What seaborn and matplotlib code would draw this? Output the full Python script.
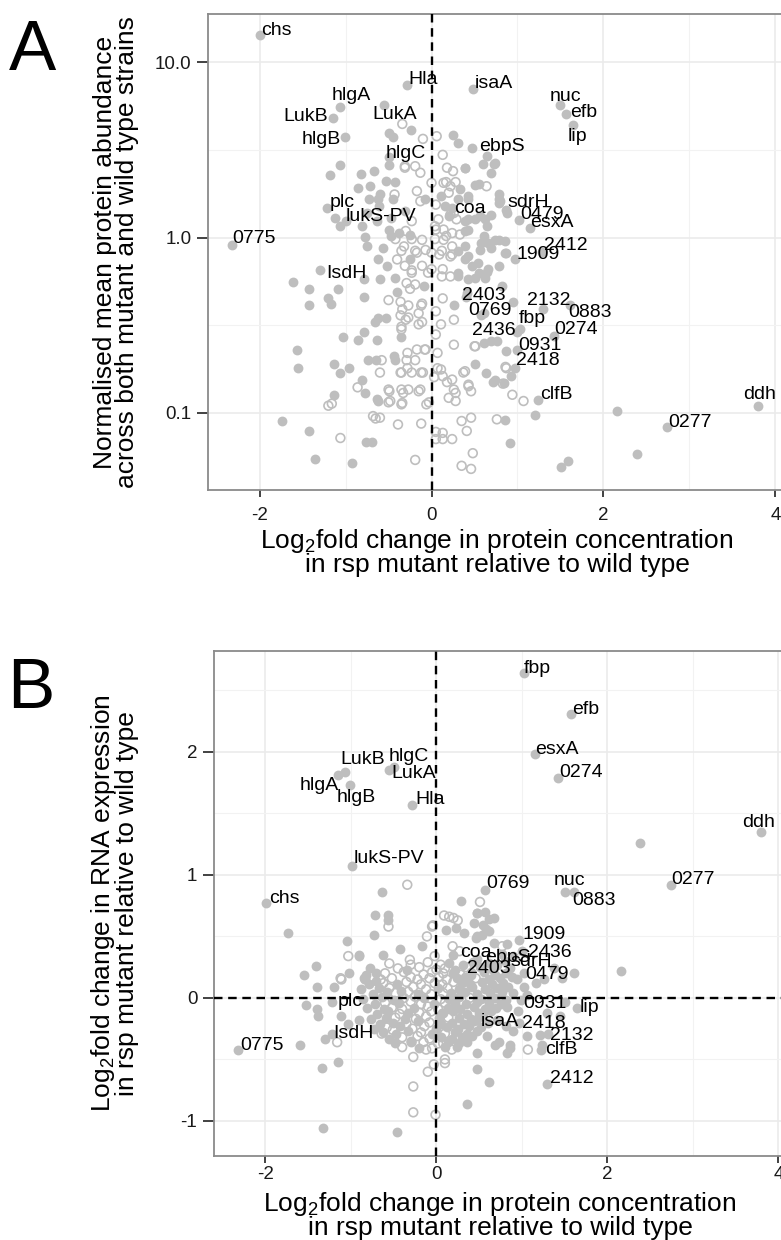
import matplotlib
matplotlib.use("Agg")
import matplotlib.pyplot as plt
import numpy as np
import pandas as pd
import seaborn as sns
from matplotlib.ticker import FixedLocator, NullFormatter

sns.set_theme(style="white")
plt.rcParams["font.family"] = ["Liberation Sans", "DejaVu Sans"]
plt.rcParams["mathtext.fontset"] = "custom"
plt.rcParams["mathtext.rm"] = "Liberation Sans"
plt.rcParams["mathtext.it"] = "Liberation Sans:italic"
plt.rcParams["text.color"] = "black"

# ---------------------------------------------------------------- labelled genes
genes = ["chs", "Hla", "isaA", "hlgA", "LukB", "LukA", "hlgB", "hlgC", "nuc", "efb",
         "lip", "ebpS", "plc", "lukS-PV", "coa", "sdrH", "0479", "esxA", "0775", "2412",
         "1909", "IsdH", "2403", "2132", "0769", "fbp", "0883", "2436", "0274", "0931",
         "2418", "clfB", "ddh", "0277"]
gene_fc = [-1.99, -0.28, 0.48, -1.07, -1.15, -0.55, -1.01, -0.50, 1.50, 1.57,
           1.65, 0.47, -1.22, -0.99, 0.20, 0.80, 1.02, 1.15, -2.32, 1.29,
           0.97, -1.30, 0.40, 1.30, 0.57, 1.03, 1.61, 1.00, 1.42, 0.99,
           0.97, 1.24, 3.80, 2.74]
gene_abund = [14.3, 7.38, 7.06, 5.57, 4.83, 5.72, 3.75, 2.86, 5.70, 5.09,
              4.39, 3.24, 1.48, 1.24, 1.32, 1.61, 1.26, 1.14, 0.904, 0.83,
              0.75, 0.657, 0.46, 0.39, 0.36, 0.30, 0.41, 0.29, 0.274, 0.23,
              0.18, 0.118, 0.109, 0.083]
gene_rna = [0.77, 1.57, -0.17, 1.84, 1.81, 1.85, 1.73, 1.88, 0.86, 2.31,
            -0.08, 0.32, -0.03, 1.07, 0.35, 0.30, 0.20, 1.98, -0.42, -0.70,
            0.47, -0.33, 0.21, -0.29, 0.88, 2.64, 0.86, 0.38, 1.79, -0.02,
            -0.20, -0.38, 1.35, 0.92]

# ---------------------------------------------- panel A: (log2 fold change, abundance)
abund_sig = [
    (-0.50, 3.95), (-0.45, 3.75), (-0.24, 4.11), (0.25, 3.86), (0.31, 3.47), (0.65, 2.93),
    (0.60, 2.63), (0.73, 2.63), (0.69, 2.34), (0.39, 2.49), (-0.50, 2.58), (-1.07, 2.58),
    (-1.18, 2.26), (-0.82, 2.29), (-0.67, 2.39), (-0.85, 1.92), (-0.71, 1.96), (-0.53, 2.09),
    (-0.43, 2.07), (0.50, 2.00), (-0.60, 1.76), (-0.73, 1.65), (-0.45, 1.65), (-0.08, 1.65),
    (0.11, 1.72), (0.31, 1.65), (0.43, 1.66), (0.79, 1.76), (0.87, 1.44), (-0.75, 1.38),
    (-0.61, 1.51), (-0.47, 1.29), (-0.64, 1.24), (-0.81, 1.16), (0.56, 1.32), (0.69, 1.35),
    (0.79, 1.58), (0.39, 1.24), (0.50, 1.27), (0.65, 1.16), (0.39, 1.09), (0.61, 1.02),
    (0.74, 0.97), (0.86, 0.95), (-0.47, 1.02), (-0.77, 1.01), (-1.12, 1.29), (-1.07, 1.17),
    (-0.75, 0.89), (-0.56, 0.87), (0.39, 0.89), (0.56, 0.85), (0.69, 0.87), (0.87, 0.82),
    (0.39, 0.75), (0.54, 0.72), (0.65, 0.64), (0.50, 0.59), (0.31, 0.63), (-0.60, 0.58),
    (-0.79, 0.58), (-1.09, 0.51), (-1.20, 0.45), (-1.42, 0.51), (-1.61, 0.56), (-1.42, 0.41),
    (-1.17, 0.42), (-0.79, 0.46), (-0.40, 0.49), (-0.09, 0.53), (-0.53, 0.35), (-0.66, 0.33),
    (-0.78, 0.29), (-1.03, 0.27), (-0.86, 0.26), (-0.64, 0.26), (-0.35, 0.27), (-1.57, 0.23),
    (-1.55, 0.18), (-1.14, 0.19), (-1.07, 0.17), (-0.96, 0.18), (-0.74, 0.20), (-0.43, 0.20),
    (-0.81, 0.155), (-0.77, 0.13), (-1.14, 0.126), (-0.62, 0.117), (0.50, 0.19), (0.63, 0.17),
    (0.74, 0.155), (0.93, 0.162), (0.61, 0.25), (0.69, 0.257), (0.76, 0.257), (0.87, 0.225),
    (0.61, 0.37), (0.82, 0.53), (0.95, 0.43), (0.41, 0.48), (0.26, 0.41), (0.71, 0.150),
    (0.84, 0.148), (-0.62, 0.35), (-0.44, 0.21), (-0.65, 0.20), (-0.64, 0.12), (-0.69, 0.068),
    (-1.74, 0.090), (-1.43, 0.079), (-0.76, 0.068), (0.86, 0.091), (1.20, 0.098), (2.16, 0.102),
    (0.91, 0.067), (2.39, 0.058), (-1.36, 0.055), (-0.93, 0.052), (1.51, 0.049), (1.59, 0.053),
    (0.55, 2.02), (0.78, 1.65), (0.43, 1.72), (0.33, 1.88), (0.16, 1.51), (0.24, 1.48),
    (-0.62, 1.65), (-0.31, 1.41), (0.62, 1.27), (0.43, 1.27), (0.88, 1.38), (0.43, 1.11),
    (-0.50, 1.11), (-0.38, 1.06), (-0.25, 1.04), (0.57, 0.93), (0.66, 0.93), (0.78, 0.97),
    (0.86, 0.82), (-0.25, 0.75), (0.31, 0.84), (0.43, 0.78), (0.47, 0.69), (0.55, 0.63),
    (0.66, 0.66), (0.78, 0.69), (-0.62, 0.75), (-0.52, 0.69), (0.31, 0.60), (0.43, 0.58),
    (0.62, 0.59), (-0.42, 0.59), (0.74, 2.67), (0.39, 2.50),
]
abund_ns = [
    (-0.34, 4.44), (-0.10, 3.65), (0.06, 3.78), (0.13, 2.96), (0.25, 2.39), (-0.31, 2.50),
    (-0.13, 2.34), (-0.43, 1.76), (-0.17, 1.84), (0.00, 2.05), (0.17, 2.07), (0.28, 2.07),
    (0.64, 1.96), (-0.23, 1.24), (-0.13, 1.61), (0.05, 1.54), (0.26, 1.38), (-0.30, 1.09),
    (0.05, 1.11), (0.17, 1.02), (-0.31, 2.55), (-0.19, 2.55), (0.18, 2.50), (0.14, 2.05),
    (0.22, 1.96), (0.20, 1.80), (0.08, 1.27), (0.22, 1.35), (0.29, 1.27), (0.04, 1.16),
    (0.14, 1.11), (0.24, 1.06), (0.33, 1.04), (-0.42, 0.98), (-0.23, 0.98), (-0.11, 0.97),
    (0.04, 0.98), (0.14, 0.97), (0.24, 0.89), (-0.35, 0.84), (-0.19, 0.84), (-0.07, 0.85),
    (0.00, 0.82), (0.12, 0.84), (0.22, 0.78), (-0.31, 0.69), (-0.23, 0.63), (-0.11, 0.69),
    (0.00, 0.66), (0.12, 0.60), (0.22, 0.60), (-0.29, 0.55), (-0.19, 0.54), (-0.32, 0.89),
    (-0.17, 0.82), (0.09, 0.80), (0.24, 0.80), (0.13, 0.66), (-0.04, 0.63), (-0.23, 0.65),
    (-0.40, 0.75), (-0.50, 0.44), (-0.36, 0.43), (-0.25, 0.51), (-0.34, 0.39), (-0.30, 0.34),
    (-0.35, 0.30), (-0.15, 0.32), (-0.12, 0.41), (-0.58, 0.20), (-0.28, 0.22), (-0.17, 0.23),
    (-0.08, 0.23), (-0.28, 0.18), (-0.36, 0.17), (-0.12, 0.17), (0.07, 0.22), (0.07, 0.18),
    (-0.60, 0.17), (-0.86, 0.14), (-1.20, 0.11), (-1.16, 0.113), (-0.49, 0.133), (-0.48, 0.117),
    (-0.33, 0.13), (-0.34, 0.114), (-0.15, 0.133), (-0.06, 0.112), (0.03, 0.16), (0.13, 0.162),
    (0.24, 0.155), (0.26, 0.136), (0.20, 0.122), (0.28, 0.117), (0.43, 0.142), (0.46, 0.133),
    (0.37, 0.17), (0.11, 0.177), (0.26, 0.245), (0.50, 0.24), (0.83, 0.147), (0.87, 0.18),
    (0.94, 0.127), (1.07, 0.117), (0.13, 0.45), (0.05, 0.38), (0.11, 0.32), (0.05, 0.28),
    (0.26, 0.34), (-1.06, 0.072), (-0.68, 0.096), (-0.65, 0.093), (-0.60, 0.094), (-0.39, 0.086),
    (-0.12, 0.087), (0.35, 0.090), (0.46, 0.094), (0.76, 0.092), (0.41, 0.079), (0.05, 0.078),
    (0.13, 0.077), (0.05, 0.071), (0.13, 0.071), (0.24, 0.071), (-0.19, 0.054), (0.48, 0.059),
    (0.35, 0.050), (0.46, 0.048), (-0.27, 0.41), (-0.36, 0.36), (-0.27, 0.35), (-0.35, 0.31),
    (-0.15, 0.37), (-0.11, 0.33), (-0.11, 0.42), (-0.07, 0.23), (-0.19, 0.20), (-0.29, 0.20),
    (-0.35, 0.17), (-0.23, 0.17), (-0.10, 0.17), (-0.50, 0.136), (-0.35, 0.136), (-0.27, 0.136),
    (-0.13, 0.136), (-0.50, 0.115), (-0.35, 0.112), (-0.03, 0.115), (0.51, 0.24), (0.39, 0.173),
    (0.43, 0.145), (0.18, 0.15), (0.28, 0.13), (0.86, 0.183),
]

# ------------------------------------------ panel B: (log2 fold change, RNA log2 FC)
rna_sig = [
    (-0.64, 0.86), (0.29, 0.79), (0.47, 0.69), (0.61, 0.64), (0.23, 0.57), (0.58, 0.56),
    (0.47, 0.50), (0.53, 0.51), (-0.72, 0.67), (-0.56, 0.67), (-0.56, 0.63), (-0.73, 0.51),
    (-1.73, 0.53), (-1.05, 0.46), (-0.43, 0.40), (-0.90, 0.35), (-0.62, 0.35), (-0.17, 0.42),
    (0.67, 0.45), (-1.41, 0.26), (-1.55, 0.19), (-1.39, 0.09), (-1.02, 0.20), (-1.20, 0.09),
    (-0.85, 0.16), (1.61, 0.20), (2.16, 0.22), (-0.34, 0.23), (-1.53, -0.06), (-1.40, -0.09),
    (-1.38, -0.15), (-1.59, -0.38), (-1.15, -0.52), (-1.34, -0.57), (-1.03, -0.21), (-0.90, -0.18),
    (0.47, -0.58), (0.83, -0.45), (0.86, -0.41), (0.68, -0.38), (1.51, -0.03), (2.38, 1.26),
    (0.61, -0.68), (0.36, -0.86), (-1.33, -1.06), (-0.46, -1.09), (-0.91, 0.34), (-1.12, -0.15),
    (-1.22, -0.29), (-0.71, 0.20), (0.48, 0.69), (0.57, 0.70), (0.67, 0.65), (0.44, 0.61),
    (0.55, 0.59), (0.61, 0.54), (0.11, 0.55), (0.32, 0.53), (0.46, 0.49), (0.83, 0.44),
    (0.77, 0.36), (0.90, 0.34), (1.37, 0.24), (1.47, 0.16), (1.26, 0.15), (1.16, 0.12),
    (1.02, 0.09), (0.94, 0.15), (0.90, 0.04), (1.06, 0.02), (0.83, -0.07), (0.96, -0.11),
    (1.29, -0.12), (1.45, -0.15), (0.71, -0.18), (0.81, -0.23), (0.90, -0.27), (1.06, -0.31),
    (1.21, -0.30), (0.59, -0.31), (0.73, -0.36), (0.86, -0.38), (0.36, -0.36), (0.48, -0.45),
    (1.22, -0.42),
    (-0.78, 0.24), (-0.82, 0.19), (-0.70, 0.14), (-0.79, 0.11), (-0.46, 0.11), (-0.88, 0.07),
    (-0.67, 0.08), (-0.41, 0.06), (-0.74, 0.03), (-0.58, 0.05), (-0.21, 0.03), (-0.86, -0.01),
    (-0.64, 0.01), (-0.50, -0.02), (-0.15, 0.00), (-0.72, -0.05), (-0.44, -0.04), (-0.03, -0.05),
    (-0.81, -0.08), (-0.61, -0.09), (-0.26, -0.08), (-0.69, -0.13), (-0.56, -0.11), (-0.33, -0.12),
    (0.07, -0.12), (-0.77, -0.17), (-0.59, -0.16), (-0.37, -0.17), (0.03, -0.16), (-0.66, -0.21),
    (-0.51, -0.20), (-0.21, -0.19), (0.06, -0.21), (-0.73, -0.25), (-0.43, -0.23), (0.00, -0.25),
    (-0.62, -0.28), (-0.47, -0.29), (-0.33, -0.27), (-0.05, -0.29), (-0.55, -0.33), (0.05, -0.32),
    (-0.48, -0.37), (-0.30, -0.35), (-0.20, -0.41), (0.10, -0.40),
    (0.15, 0.28), (0.31, 0.27), (0.43, 0.29), (0.61, 0.28), (0.71, 0.27), (0.22, 0.23),
    (0.51, 0.25), (0.66, 0.23), (0.86, 0.24), (0.19, 0.20), (0.41, 0.19), (0.56, 0.21),
    (0.69, 0.19), (0.81, 0.20), (0.24, 0.16), (0.34, 0.17), (0.61, 0.15), (0.74, 0.16),
    (0.88, 0.17), (0.30, 0.12), (0.39, 0.11), (0.53, 0.13), (0.65, 0.11), (0.78, 0.12),
    (0.02, 0.08), (0.26, 0.07), (0.42, 0.09), (0.57, 0.07), (0.71, 0.08), (0.84, 0.09),
    (0.17, 0.04), (0.34, 0.05), (0.47, 0.03), (0.63, 0.04), (0.77, 0.05), (0.15, -0.01),
    (0.27, 0.01), (0.52, -0.01), (0.68, 0.00), (0.82, -0.02), (0.22, -0.04), (0.35, -0.05),
    (0.48, -0.03), (0.62, -0.04), (0.75, -0.05), (0.14, -0.08), (0.28, -0.09), (0.44, -0.07),
    (0.57, -0.09), (0.70, -0.08), (0.08, -0.12), (0.20, -0.11), (0.36, -0.13), (0.50, -0.12),
    (0.64, -0.11), (0.27, -0.16), (0.40, -0.17), (0.55, -0.15), (0.18, -0.20), (0.32, -0.21),
    (0.44, -0.19), (0.60, -0.20), (0.12, -0.24), (0.25, -0.25), (0.38, -0.23), (0.52, -0.24),
    (0.22, -0.28), (0.36, -0.29), (0.48, -0.27), (0.18, -0.33), (0.30, -0.32), (0.42, -0.31),
    (0.14, -0.36), (0.26, -0.37), (0.24, -0.40),
]
rna_ns = [
    (-0.34, 0.92), (0.51, 0.78), (0.15, 0.66), (0.25, 0.63), (-0.56, 0.58), (-0.04, 0.59),
    (-1.03, 0.34), (-0.02, 0.34), (0.19, 0.42), (0.27, 0.38), (0.77, 0.42), (-1.11, 0.15),
    (-0.65, 0.15), (-0.31, 0.31), (-1.16, -0.36), (-0.64, -0.29), (-0.51, -0.26), (-0.29, -0.36),
    (-0.12, -0.42), (-0.27, -0.48), (0.08, -0.37), (0.18, -0.42), (0.10, -0.50), (1.07, -0.42),
    (-0.03, -0.54), (-0.10, -0.60), (0.10, -0.53), (-0.27, -0.72), (-0.27, -0.93), (-0.01, -0.95),
    (0.09, 0.67), (0.20, 0.65), (-0.83, 0.15), (-1.12, 0.16), (-0.11, 0.50), (-0.05, 0.58),
    (-0.55, 0.28), (-0.30, 0.27), (-0.10, 0.29), (0.05, 0.27), (-0.45, 0.24), (-0.20, 0.25),
    (0.00, 0.23), (0.10, 0.24), (0.35, 0.25), (-0.60, 0.20), (-0.38, 0.21), (-0.15, 0.19),
    (-0.05, 0.21), (0.08, 0.20), (0.28, 0.19), (-0.52, 0.16), (-0.30, 0.17), (-0.22, 0.15),
    (-0.08, 0.16), (0.03, 0.17), (0.12, 0.15), (0.46, 0.16), (-0.62, 0.12), (-0.35, 0.13),
    (-0.18, 0.11), (-0.02, 0.12), (0.07, 0.11), (0.20, 0.13), (-0.55, 0.08), (-0.27, 0.09),
    (-0.12, 0.07), (0.13, 0.08), (-0.48, 0.04), (-0.33, 0.05), (-0.06, 0.03), (0.08, 0.04),
    (-0.38, 0.00), (-0.25, 0.01), (0.05, -0.01), (0.39, 0.00), (-0.60, -0.04), (-0.30, -0.03),
    (-0.18, -0.05), (0.10, -0.04), (-0.52, -0.08), (-0.40, -0.09), (-0.10, -0.07), (0.02, -0.09),
    (-0.43, -0.13), (-0.20, -0.12), (-0.06, -0.11), (-0.48, -0.16), (-0.24, -0.17), (-0.12, -0.15),
    (0.14, -0.16), (-0.35, -0.21), (-0.08, -0.20), (-0.58, -0.24), (-0.28, -0.25), (-0.14, -0.23),
    (-0.18, -0.28), (0.10, -0.29), (-0.40, -0.32), (-0.22, -0.31), (-0.08, -0.33), (-0.15, -0.36),
    (0.02, -0.37), (-0.40, -0.40), (-0.05, -0.41),
]

# label placement: (dx, dy) in pixels from the point, horizontal alignment
label_pos_a = {
    "chs": (0.3, 4.5, "left"), "Hla": (1, 5.7, "left"), "isaA": (1.7, 5, "left"),
    "hlgA": (-7.7, 11, "left"), "LukB": (-4.5, 1.3, "right"), "LukA": (-11.7, -10, "left"),
    "hlgB": (-4.2, -2.7, "right"), "hlgC": (-3, 4, "left"), "nuc": (-11, 8, "left"),
    "efb": (4, 1.3, "left"), "lip": (-5.6, -11.4, "left"), "ebpS": (7.3, 1.7, "left"),
    "plc": (3.4, 5.4, "left"), "lukS-PV": (-0.5, 4.3, "left"), "coa": (5.4, 8, "left"),
    "sdrH": (7.5, -1.6, "left"), "0479": (1.5, 5.4, "left"), "esxA": (-0.4, 5.3, "left"),
    "0775": (0, 6.4, "left"), "2412": (2, 6, "left"), "1909": (2, 5, "left"),
    "IsdH": (6, -4, "left"), "2403": (-4, 1, "left"), "2132": (-16, 9, "left"),
    "0769": (-12, 5, "left"), "fbp": (-1, 10.5, "left"), "0883": (-2, -7.4, "left"),
    "2436": (-2.3, 1.7, "right"), "0274": (0.5, 6.7, "left"), "0931": (2, 4, "left"),
    "2418": (1.4, 8, "left"), "clfB": (2, 6, "left"), "ddh": (-14.6, 12, "left"),
    "0277": (1, 5, "left"),
}
label_pos_b = {
    "chs": (2.6, 4.3, "left"), "Hla": (2.7, 4.9, "left"), "isaA": (3, -2.8, "left"),
    "hlgA": (-5.6, -14, "right"), "LukB": (2.3, 15.4, "left"), "LukA": (1.7, -3.5, "left"),
    "hlgB": (-13.3, -12, "left"), "hlgC": (-5.3, 10, "left"), "nuc": (-10.6, 11.5, "left"),
    "efb": (1.3, 4.6, "left"), "lip": (2.2, 0, "left"), "ebpS": (8.8, 0.6, "left"),
    "plc": (5.3, 0, "left"), "lukS-PV": (1.6, 7.4, "left"), "coa": (6.2, 2.7, "left"),
    "sdrH": (5.6, -0.6, "left"), "0479": (1.8, -1.6, "left"), "esxA": (0.9, 5.2, "left"),
    "0775": (2.4, 3.7, "left"), "2412": (3, 5.1, "left"), "1909": (2.8, 5.2, "left"),
    "IsdH": (7.7, 5.3, "left"), "2403": (-3.5, 3.9, "left"), "2132": (2.8, -2.3, "left"),
    "0769": (1.3, 5.8, "left"), "fbp": (-1.1, 5, "left"), "0883": (-2.2, -8.5, "left"),
    "2436": (6.5, -1.7, "left"), "0274": (1.1, 5.5, "left"), "0931": (2.7, -3.5, "left"),
    "2418": (2.8, -1.4, "left"), "clfB": (2.4, -5.3, "left"), "ddh": (-19.4, 9.3, "left"),
    "0277": (0.7, 5.5, "left"),
}

GREY = "#BEBEBE"
TITLE_X = 19
TITLE_Y = 19
TICK = 13.5
LABEL = 14

labelled = pd.DataFrame({"gene": genes, "fc": gene_fc, "abund": gene_abund, "rna": gene_rna})


def frame(sig_pts, ns_pts, col):
    sig = pd.DataFrame(sig_pts, columns=["fc", col]).assign(sig=True)
    ns = pd.DataFrame(ns_pts, columns=["fc", col]).assign(sig=False)
    lab = labelled[["fc", col]].assign(sig=True)
    return pd.concat([sig, lab, ns], ignore_index=True)


def draw_points(ax, df, col):
    filled = df[df["sig"]]
    hollow = df[~df["sig"]]
    sns.scatterplot(data=filled, x="fc", y=col, ax=ax, color=GREY, s=50,
                    linewidth=0, zorder=2, legend=False)
    sns.scatterplot(data=hollow, x="fc", y=col, ax=ax, color=GREY, s=40,
                    facecolor="none", edgecolor=GREY, linewidth=1.2, zorder=2, legend=False)
    coll = ax.collections[-1]
    coll.set_facecolor("none")
    coll.set_edgecolor(GREY)


def style_axes(ax):
    for sp in ax.spines.values():
        sp.set_color("#8A8A8A")
        sp.set_linewidth(1.3)
    ax.set_axisbelow(True)
    ax.grid(which="major", color="#EBEBEB", linewidth=1.2)
    ax.grid(which="minor", color="#F2F2F2", linewidth=0.8)
    ax.tick_params(which="major", direction="out", width=1.3,
                   color="#333333", labelsize=TICK, labelcolor="#1A1A1A",
                   left=True, bottom=True)
    ax.tick_params(axis="x", which="major", length=5)
    ax.tick_params(axis="y", which="major", length=8, pad=4)
    ax.tick_params(which="minor", length=0)


def add_labels(ax, col, pos):
    for g, x, y in zip(labelled["gene"], labelled["fc"], labelled[col]):
        dx, dy, ha = pos[g]
        ax.annotate(g, (x, y), xytext=(dx, dy), textcoords="offset pixels",
                    ha=ha, va="center", fontsize=LABEL, color="black", zorder=5)


fig = plt.figure(figsize=(7.81, 12.40), dpi=100)
W, H = 781, 1240

xlabel = "Log$_2$fold change in protein concentration\nin rsp mutant relative to wild type"

# ------------------------------------------------------------------ panel A
ax_a = fig.add_axes([208 / W, 1 - 490 / H, 576 / W, 476 / H])
df_a = frame(abund_sig, abund_ns, "abund")
draw_points(ax_a, df_a, "abund")
ax_a.set_yscale("log")
ax_a.set_xlim(-2.6, 4.1)
ax_a.set_ylim(10 ** -1.439, 10 ** 1.274)
ax_a.axvline(0, color="black", lw=1.7, ls=(0, (3.6, 2.4)), zorder=3)
ax_a.xaxis.set_major_locator(FixedLocator([-2, 0, 2, 4]))
ax_a.xaxis.set_minor_locator(FixedLocator([-1, 1, 3]))
ax_a.yaxis.set_major_locator(FixedLocator([0.1, 1.0, 10.0]))
ax_a.yaxis.set_minor_locator(FixedLocator([10 ** -0.5, 10 ** 0.5]))
ax_a.yaxis.set_minor_formatter(NullFormatter())
ax_a.set_xticklabels(["-2", "0", "2", "4"])
ax_a.set_yticklabels(["0.1", "1.0", "10.0"])
style_axes(ax_a)
ax_a.tick_params(axis="x", pad=7)
add_labels(ax_a, "abund", label_pos_a)
ax_a.set_xlabel(xlabel, fontsize=TITLE_X, linespacing=0.92, color="black")
ax_a.xaxis.set_label_coords(289 / 576, -37 / 476)
ax_a.set_ylabel("Normalised mean protein abundance\nacross both mutant and wild type strains",
                fontsize=TITLE_Y, linespacing=0.92, color="black")
ax_a.yaxis.set_label_coords(-69 / 576, 0.5)

# ------------------------------------------------------------------ panel B
ax_b = fig.add_axes([214 / W, 1 - 1156 / H, 573 / W, 505 / H])
df_b = frame(rna_sig, rna_ns, "rna")
draw_points(ax_b, df_b, "rna")
ax_b.set_xlim(-2.6, 4.1)
ax_b.set_ylim(-1.285, 2.82)
ax_b.axvline(0, color="black", lw=1.7, ls=(0, (3.6, 2.4)), zorder=3)
ax_b.axhline(0, color="black", lw=1.7, ls=(0, (3.6, 2.4)), zorder=3)
ax_b.xaxis.set_major_locator(FixedLocator([-2, 0, 2, 4]))
ax_b.xaxis.set_minor_locator(FixedLocator([-1, 1, 3]))
ax_b.yaxis.set_major_locator(FixedLocator([-1, 0, 1, 2]))
ax_b.yaxis.set_minor_locator(FixedLocator([-0.5, 0.5, 1.5, 2.5]))
ax_b.set_xticklabels(["-2", "0", "2", "4"])
ax_b.set_yticklabels(["-1", "0", "1", "2"])
style_axes(ax_b)
ax_b.tick_params(axis="x", pad=2)
add_labels(ax_b, "rna", label_pos_b)
ax_b.set_xlabel(xlabel, fontsize=TITLE_X, linespacing=0.92, color="black")
ax_b.xaxis.set_label_coords(286 / 573, -34 / 505)
ax_b.set_ylabel("Log$_2$fold change in RNA expression\nin rsp mutant relative to wild type",
                fontsize=TITLE_Y, linespacing=0.92, color="black")
ax_b.yaxis.set_label_coords(-75 / 573, 0.5)

# panel letters
fig.text(9 / W, 1 - 70 / H, "A", fontsize=51, va="baseline", ha="left", color="black")
fig.text(7 / W, 1 - 708 / H, "B", fontsize=51, va="baseline", ha="left", color="black")

fig.savefig("out.png", dpi=100)
